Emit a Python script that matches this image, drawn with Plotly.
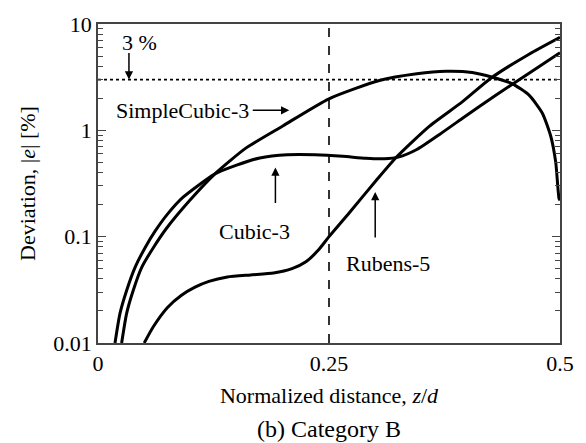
import numpy as np
import plotly.graph_objects as go

# Normalized distance z/d and deviation |e| [%] for each interpolation scheme
simple_x = [0.0256, 0.031, 0.0381, 0.0472, 0.0597, 0.0742, 0.0994, 0.1263, 0.16,
            0.2, 0.25, 0.3045, 0.345, 0.3769, 0.405, 0.4269, 0.4485, 0.4665, 0.4809, 0.49,
            0.4954, 0.499, 0.5]
simple_y = [0.01, 0.019, 0.0312, 0.0512, 0.0783, 0.12, 0.22, 0.388, 0.68,
            1.1, 1.98, 2.94, 3.4, 3.59, 3.5, 3.16, 2.74, 2.14, 1.45, 0.88,
            0.50, 0.227, 0.22]

cubic_x = [0.0184, 0.0238, 0.031, 0.04, 0.0508, 0.0616, 0.075, 0.0921, 0.1263, 0.15,
           0.175, 0.205, 0.235, 0.265, 0.29, 0.31, 0.325, 0.345, 0.37, 0.3945, 0.4305,
           0.4665, 0.5]
cubic_y = [0.01, 0.019, 0.0312, 0.0512, 0.0783, 0.112, 0.162, 0.235, 0.388, 0.47,
           0.55, 0.59, 0.59, 0.57, 0.545, 0.54, 0.56, 0.66, 0.92, 1.30, 2.14,
           3.44, 5.38]

rubens_x = [0.05, 0.06, 0.075, 0.09, 0.105, 0.12, 0.14, 0.165, 0.19, 0.21,
            0.225, 0.238, 0.25, 0.272, 0.301, 0.3226, 0.3585, 0.3945, 0.4258, 0.4665, 0.5]
rubens_y = [0.01, 0.0143, 0.0215, 0.028, 0.0335, 0.038, 0.0418, 0.0437, 0.0455, 0.05,
            0.058, 0.074, 0.1, 0.168, 0.337, 0.555, 1.09, 1.86, 3.12, 5.2, 7.5]

limit_pct = 3.0        # acceptance threshold [%]
mid_distance = 0.25    # reference distance z/d

tick_vals = [0.01, 0.1, 1, 10]
tick_text = ["0.01", "0.1", "1", "10"]
x_tick_vals = [0, 0.25, 0.5]
x_tick_text = ["0", "0.25", "0.5"]

FONT = "Liberation Serif"
FS = 22
INK = "#000000"

fig = go.Figure()

for xs, ys in [(simple_x, simple_y), (cubic_x, cubic_y), (rubens_x, rubens_y)]:
    fig.add_trace(go.Scatter(x=xs, y=ys, mode="lines",
                             line=dict(color=INK, width=3, shape="spline", smoothing=0.6),
                             showlegend=False, hoverinfo="skip"))

# 3 % threshold and the z/d = 0.25 marker
fig.add_trace(go.Scatter(x=[0, 0.5], y=[limit_pct, limit_pct], mode="lines",
                         line=dict(color=INK, width=1.6, dash="dot"),
                         showlegend=False, hoverinfo="skip"))
fig.add_trace(go.Scatter(x=[mid_distance, mid_distance], y=[0.01, 10], mode="lines",
                         line=dict(color=INK, width=1.6, dash="dash"),
                         showlegend=False, hoverinfo="skip"))

minor_vals = [k * 10.0 ** n for n in (-2, -1, 0) for k in range(2, 10)]

fig.update_layout(
    width=586, height=443,
    margin=dict(l=98, r=25, t=19, b=100),
    paper_bgcolor="white", plot_bgcolor="white",
    font=dict(family=FONT, size=FS, color=INK),
    xaxis=dict(range=[0, 0.5], tickvals=x_tick_vals, ticktext=x_tick_text,
               ticks="", showgrid=False, zeroline=False,
               showline=True, linecolor="#444", linewidth=1.5, mirror=True,
               title=dict(text="Normalized distance, <i>z</i>/<i>d</i>",
                          font=dict(family=FONT, size=FS), standoff=12),
               tickfont=dict(family=FONT, size=FS)),
    yaxis=dict(type="log", range=[-2, 1], tickvals=tick_vals, ticktext=tick_text,
               ticks="inside", ticklen=8, tickwidth=1.3, tickcolor="#444",
               minor=dict(tickvals=minor_vals, ticks="inside", ticklen=5,
                          tickwidth=1.1, tickcolor="#444", showgrid=False),
               showgrid=False, zeroline=False,
               showline=True, linecolor="#444", linewidth=1.5, mirror="ticks",
               title=dict(text="Deviation, |<i>e</i>| [%]",
                          font=dict(family=FONT, size=FS), standoff=12),
               tickfont=dict(family=FONT, size=FS)),
)

ann = []
# arrows (tip at curve, tail offset in pixels)
arrow = dict(text="", showarrow=True, arrowhead=2, arrowsize=1.1, arrowwidth=1.5,
             arrowcolor=INK, xref="x", yref="y", axref="pixel", ayref="pixel")
ann.append(dict(arrow, x=0.0335, y=np.log10(limit_pct), ax=0, ay=-28))
ann.append(dict(arrow, x=0.207, y=0.188, ax=-38, ay=0))
ann.append(dict(arrow, x=0.192, y=-0.349, ax=0, ay=37))
ann.append(dict(arrow, x=0.300, y=-0.58, ax=0, ay=47))
# labels
lab = dict(showarrow=False, xref="x", yref="y", font=dict(family=FONT, size=FS, color=INK))
ann.append(dict(lab, text="3 %", x=0.0454, y=0.827))
ann.append(dict(lab, text="SimpleCubic-3", x=0.166, y=0.188, xanchor="right"))
ann.append(dict(lab, text="Cubic-3", x=0.169, y=-0.951))
ann.append(dict(lab, text="Rubens-5", x=0.3143, y=-1.256))
# caption
ann.append(dict(showarrow=False, xref="paper", yref="paper", x=0.5, y=0,
                yshift=-86, yanchor="middle", text="(b) Category B",
                font=dict(family=FONT, size=24, color=INK)))
fig.update_layout(annotations=ann)

fig.write_html("out.html")
